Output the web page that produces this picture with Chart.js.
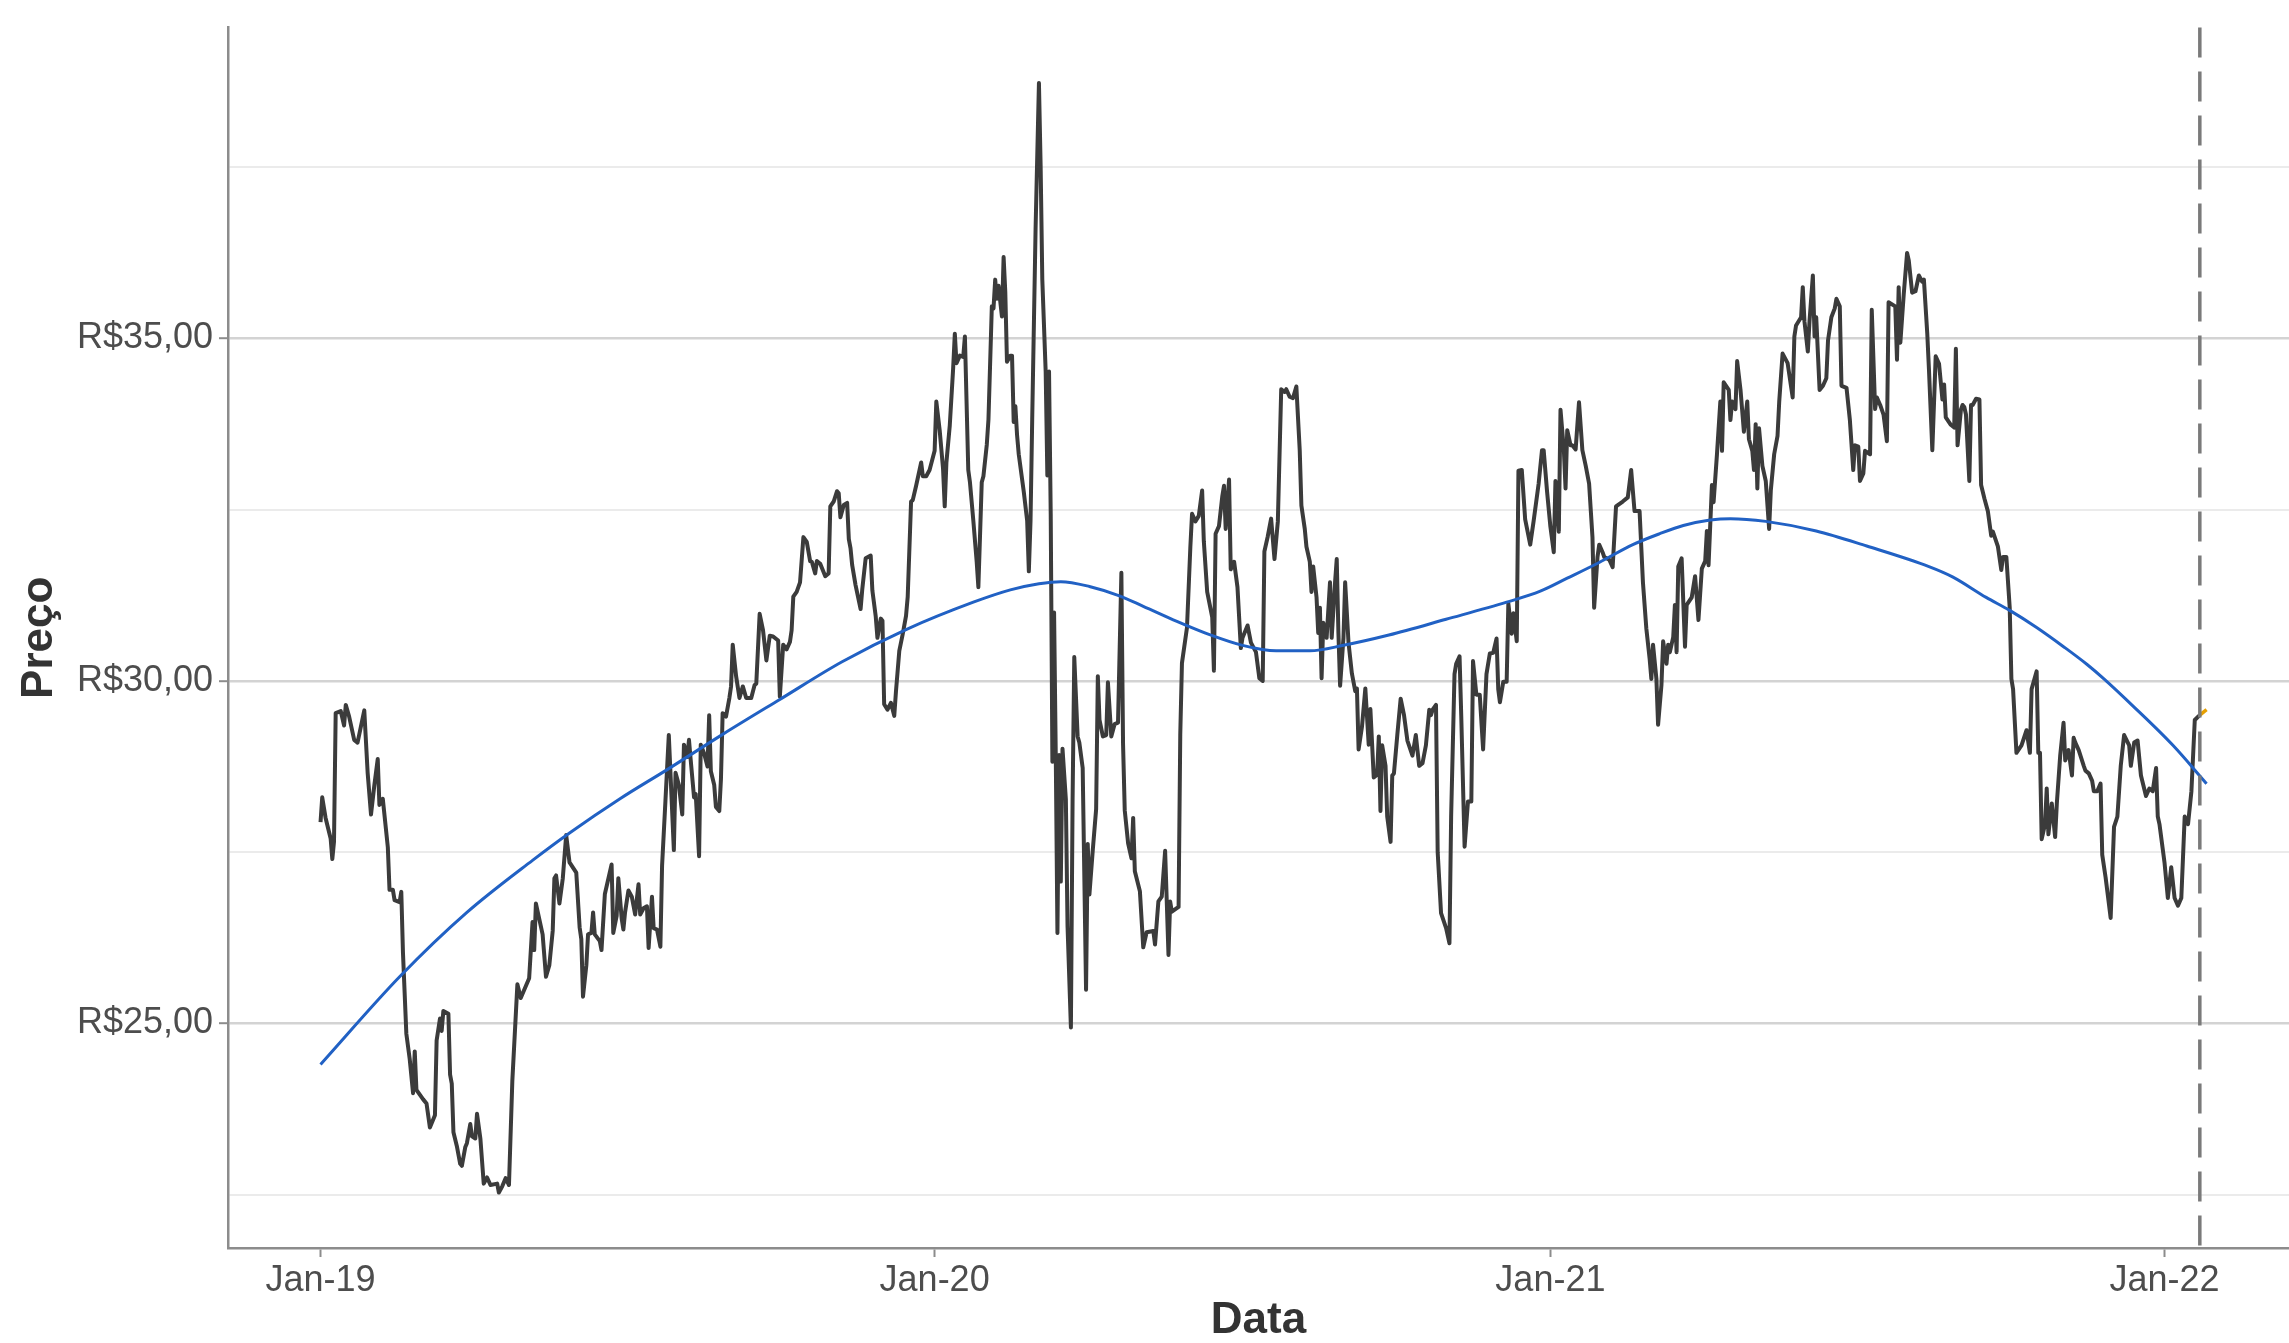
<!DOCTYPE html>
<html lang="pt-BR">
<head>
<meta charset="UTF-8">
<title>Preço</title>
<style>
  html, body { margin: 0; padding: 0; background: #ffffff; }
  #wrap { width: 2289px; height: 1343px; }
</style>
</head>
<body>
<div id="wrap"><canvas id="grafico"></canvas></div>
<script src="https://cdn.jsdelivr.net/npm/chart.js@4.4.1/dist/chart.umd.min.js"></script>
<script>
// dias desde 01/01/2019 (eixo x)
const dias = [
  0, 1, 3, 6, 7, 8, 9, 12, 14, 15,
  17, 20, 22, 26, 28, 30, 32, 34, 35, 37,
  40, 41, 43, 44, 47, 48, 49, 51, 53, 55,
  56, 57, 61, 63, 65, 68, 69, 71, 72, 73,
  76, 77, 78, 79, 81, 83, 84, 86, 87, 89,
  90, 92, 93, 95, 97, 99, 101, 105, 106, 108,
  110, 112, 114, 117, 119, 124, 126, 127, 128, 132,
  134, 136, 138, 139, 140, 142, 144, 146, 148, 152,
  154, 155, 156, 158, 159, 161, 162, 163, 166, 167,
  169, 173, 174, 176, 177, 179, 180, 181, 183, 185,
  187, 189, 190, 192, 194, 195, 197, 198, 200, 202,
  203, 205, 207, 210, 211, 213, 215, 216, 218, 219,
  220, 222, 223, 225, 226, 228, 230, 231, 232, 234,
  235, 237, 238, 239, 241, 243, 244, 245, 247, 249,
  251, 253, 256, 258, 259, 261, 263, 265, 267, 269,
  272, 273, 275, 277, 279, 280, 281, 283, 285, 287,
  289, 291, 292, 294, 295, 297, 300, 302, 303, 305,
  307, 308, 309, 311, 313, 314, 315, 316, 318, 321,
  322, 324, 327, 328, 330, 331, 333, 334, 335, 337,
  339, 341, 342, 344, 346, 348, 349, 351, 352, 354,
  357, 358, 360, 362, 365, 366, 368, 370, 371, 372,
  374, 376, 377, 378, 380, 382, 383, 385, 386, 388,
  390, 391, 393, 394, 396, 397, 399, 400, 401, 402,
  403, 405, 406, 407, 408, 410, 411, 412, 413, 414,
  415, 418, 420, 421, 422, 423, 425, 427, 428, 429,
  431, 432, 433, 434, 435, 436, 437, 438, 439, 440,
  441, 443, 444, 446, 447, 448, 450, 451, 453, 455,
  456, 457, 459, 461, 462, 463, 465, 467, 468, 470,
  472, 474, 476, 477, 478, 480, 482, 483, 484, 487,
  489, 491, 495, 496, 498, 500, 502, 504, 505, 506,
  510, 511, 512, 515, 517, 518, 520, 522, 524, 525,
  527, 530, 531, 532, 534, 536, 537, 538, 540, 541,
  543, 545, 547, 548, 551, 553, 556, 558, 560, 561,
  563, 565, 567, 569, 571, 573, 574, 576, 578, 580,
  582, 583, 585, 586, 588, 589, 590, 592, 593, 594,
  595, 596, 598, 600, 601, 603, 604, 605, 606, 608,
  609, 611, 613, 615, 616, 617, 619, 621, 623, 624,
  626, 628, 629, 630, 631, 633, 634, 636, 637, 638,
  640, 642, 644, 646, 649, 651, 653, 655, 657, 659,
  660, 661, 663, 664, 666, 669, 671, 672, 674, 675,
  677, 678, 680, 682, 684, 685, 687, 689, 691, 693,
  695, 697, 699, 700, 701, 703, 705, 706, 708, 709,
  711, 712, 714, 716, 719, 721, 724, 726, 727, 729,
  731, 733, 734, 736, 737, 739, 740, 741, 743, 744,
  746, 748, 750, 752, 754, 756, 757, 759, 760, 762,
  763, 766, 768, 770, 774, 777, 779, 781, 784, 786,
  788, 790, 791, 792, 794, 795, 797, 798, 800, 801,
  802, 804, 805, 806, 807, 809, 811, 812, 815, 817,
  819, 821, 823, 824, 825, 827, 828, 830, 832, 833,
  834, 837, 838, 839, 841, 842, 844, 846, 848, 849,
  851, 852, 853, 854, 855, 857, 859, 861, 862, 864,
  866, 867, 869, 872, 875, 876, 877, 880, 881, 882,
  884, 885, 887, 888, 889, 891, 893, 895, 896, 898,
  900, 901, 903, 904, 907, 909, 911, 912, 914, 915,
  917, 918, 921, 922, 924, 925, 927, 929, 931, 932,
  936, 937, 938, 939, 941, 943, 944, 946, 948, 950,
  952, 953, 955, 956, 958, 960, 962, 964, 965, 966,
  969, 971, 972, 973, 975, 976, 977, 978, 980, 981,
  982, 984, 986, 987, 989, 991, 993, 994, 997, 999,
  1000, 1002, 1004, 1005, 1006, 1008, 1011, 1014, 1016, 1017,
  1020, 1021, 1022, 1023, 1025, 1026, 1027, 1029, 1031, 1032,
  1034, 1036, 1037, 1039, 1041, 1042, 1043, 1045, 1048, 1049,
  1051, 1053, 1054, 1056, 1058, 1059, 1061, 1064, 1066, 1068,
  1070, 1072, 1075, 1076, 1078, 1080, 1082, 1085, 1087, 1089,
  1091, 1092, 1093, 1096, 1098, 1100, 1102, 1104, 1106, 1108,
  1110, 1112, 1114, 1116, 1117
];

const precos = [
  27.94, 28.30, 28.00, 27.70, 27.40, 27.65, 29.53, 29.56, 29.35, 29.65,
  29.48, 29.14, 29.10, 29.57, 28.66, 28.05, 28.48, 28.86, 28.19, 28.28,
  27.57, 26.95, 26.95, 26.80, 26.77, 26.92, 26.03, 24.85, 24.48, 23.98,
  24.59, 24.03, 23.89, 23.83, 23.48, 23.66, 24.75, 25.07, 24.89, 25.18,
  25.14, 24.25, 24.12, 23.41, 23.21, 22.95, 22.92, 23.19, 23.25, 23.53,
  23.35, 23.32, 23.68, 23.32, 22.66, 22.75, 22.64, 22.66, 22.53, 22.62,
  22.74, 22.64, 24.16, 25.57, 25.37, 25.66, 26.48, 26.07, 26.75, 26.30,
  25.68, 25.85, 26.35, 27.12, 27.16, 26.75, 27.12, 27.75, 27.35, 27.20,
  26.40, 26.23, 25.39, 25.85, 26.30, 26.32, 26.62, 26.30, 26.20, 26.07,
  26.89, 27.32, 26.32, 26.57, 27.12, 26.53, 26.37, 26.62, 26.94, 26.85,
  26.59, 27.03, 26.59, 26.68, 26.71, 26.10, 26.85, 26.39, 26.37, 26.12,
  27.30, 28.25, 29.21, 27.53, 28.66, 28.48, 28.05, 29.07, 28.89, 29.14,
  28.85, 28.30, 28.35, 27.44, 29.07, 28.94, 28.75, 29.50, 28.68, 28.48,
  28.16, 28.10, 28.57, 29.53, 29.48, 29.75, 29.92, 30.53, 30.07, 29.75,
  29.92, 29.75, 29.75, 29.94, 29.96, 30.98, 30.74, 30.30, 30.66, 30.65,
  30.59, 29.77, 30.53, 30.46, 30.57, 30.74, 31.23, 31.30, 31.44, 32.10,
  32.03, 31.75, 31.74, 31.57, 31.75, 31.71, 31.53, 31.57, 32.55, 32.62,
  32.77, 32.74, 32.39, 32.57, 32.60, 32.07, 31.94, 31.69, 31.40, 31.05,
  31.34, 31.79, 31.83, 31.32, 30.94, 30.63, 30.91, 30.88, 29.66, 29.58,
  29.68, 29.49, 29.84, 30.44, 30.68, 30.95, 31.23, 32.62, 32.64, 32.85,
  33.19, 32.99, 32.99, 33.08, 33.36, 34.08, 33.66, 33.10, 32.55, 33.19,
  33.73, 34.56, 35.07, 34.64, 34.75, 34.73, 35.03, 33.08, 32.90, 32.34,
  31.74, 31.37, 32.90, 32.99, 33.45, 33.82, 35.47, 35.44, 35.86, 35.58,
  35.77, 35.32, 36.19, 35.68, 34.66, 34.75, 34.75, 33.78, 34.01, 33.59,
  33.31, 32.76, 32.34, 31.60, 32.34, 33.82, 36.60, 38.73, 37.53, 35.86,
  34.52, 33.00, 34.52, 32.44, 28.82, 31.00, 28.92, 26.32, 28.92, 27.07,
  29.01, 28.27, 26.42, 24.94, 28.27, 30.35, 29.19, 29.10, 28.73, 25.49,
  27.62, 26.88, 27.53, 28.13, 30.07, 29.43, 29.19, 29.21, 29.98, 29.19,
  29.37, 29.39, 31.58, 29.07, 28.11, 27.63, 27.41, 28.00, 27.22, 26.93,
  26.11, 26.33, 26.35, 26.15, 26.78, 26.85, 27.52, 26.00, 26.78, 26.63,
  26.70, 29.22, 30.26, 30.78, 31.96, 32.44, 32.33, 32.41, 32.78, 32.04,
  31.30, 30.93, 30.15, 32.15, 32.26, 32.70, 32.85, 32.22, 32.94, 31.63,
  31.74, 31.37, 30.48, 30.63, 30.81, 30.56, 30.42, 30.04, 30.00, 31.89,
  32.11, 32.37, 31.78, 32.33, 34.26, 34.22, 34.26, 34.15, 34.13, 34.30,
  33.37, 32.56, 32.22, 31.96, 31.74, 31.30, 31.67, 31.22, 30.70, 31.07,
  30.04, 30.85, 30.63, 31.44, 30.63, 31.44, 31.78, 30.70, 29.93, 30.63,
  31.44, 30.56, 30.11, 29.85, 29.89, 29.00, 29.33, 29.89, 29.07, 29.59,
  28.59, 28.63, 29.19, 28.10, 29.06, 28.76, 28.02, 27.65, 28.62, 28.65,
  29.21, 29.74, 29.50, 29.13, 28.91, 29.21, 28.76, 28.80, 29.06, 29.58,
  29.50, 29.58, 29.65, 27.50, 26.61, 26.39, 26.17, 28.02, 30.10, 30.25,
  30.36, 29.50, 27.58, 28.24, 28.24, 30.29, 29.80, 29.80, 29.00, 30.10,
  30.40, 30.41, 30.62, 29.88, 29.69, 29.99, 29.99, 31.13, 30.69, 30.99,
  30.58, 33.07, 33.08, 32.36, 31.99, 32.33, 32.88, 33.37, 33.37, 32.77,
  32.25, 31.88, 32.92, 32.18, 33.96, 33.37, 32.81, 33.66, 33.44, 33.44,
  33.38, 34.07, 33.37, 33.14, 32.88, 32.10, 31.07, 31.81, 31.99, 31.88,
  31.81, 31.77, 31.66, 32.55, 32.62, 32.68, 33.08, 32.48, 32.48, 31.44,
  30.77, 30.32, 30.03, 30.53, 30.03, 29.36, 29.94, 30.58, 30.25, 30.53,
  30.42, 30.64, 31.11, 30.42, 31.67, 31.79, 30.50, 31.11, 31.22, 31.53,
  30.89, 31.64, 31.75, 32.19, 31.69, 32.86, 32.61, 33.31, 34.08, 33.36,
  34.36, 34.25, 33.81, 34.08, 33.97, 34.67, 34.25, 33.64, 34.08, 33.53,
  33.36, 33.08, 33.75, 32.81, 33.69, 33.14, 32.92, 32.22, 32.78, 33.31,
  33.58, 34.08, 34.78, 34.64, 34.14, 35.03, 35.19, 35.31, 35.75, 35.25,
  34.81, 35.25, 35.92, 35.03, 35.31, 34.25, 34.31, 34.42, 34.97, 35.31,
  35.44, 35.58, 35.47, 34.31, 34.28, 33.81, 33.08, 33.44, 33.42, 32.92,
  33.03, 33.36, 33.31, 35.42, 33.97, 34.14, 34.03, 33.89, 33.50, 35.53,
  35.47, 34.69, 35.75, 34.94, 35.64, 36.25, 36.14, 35.67, 35.69, 35.92,
  35.83, 35.86, 35.07, 34.55, 33.37, 34.74, 34.63, 34.11, 34.33, 33.85,
  33.74, 33.70, 34.85, 33.44, 33.96, 34.03, 34.00, 33.89, 32.92, 34.03,
  34.03, 34.12, 34.11, 32.86, 32.66, 32.48, 32.12, 32.18, 31.96, 31.62,
  31.81, 31.81, 31.07, 30.03, 29.88, 28.95, 29.06, 29.28, 28.95, 29.88,
  30.14, 28.95, 28.95, 27.69, 27.91, 28.43, 27.76, 28.21, 27.72, 28.21,
  28.91, 29.39, 28.84, 28.99, 28.62, 29.17, 29.10, 28.99, 28.76, 28.69,
  28.65, 28.54, 28.39, 28.39, 28.50, 27.46, 27.13, 26.54, 27.87, 28.02,
  28.76, 29.21, 29.06, 28.76, 29.10, 29.13, 28.62, 28.32, 28.43, 28.39,
  28.73, 28.02, 27.91, 27.35, 26.83, 27.28, 26.83, 26.72, 26.83, 28.02,
  27.91, 28.39, 29.43, 29.48, 29.50
];

// curva suavizada (loess)
const diasTendencia = [0, 47, 87, 126, 148, 178, 207, 239, 273, 310,
  348, 388, 410, 427, 440, 457, 474, 489, 509, 528,
  548, 568, 588, 608, 635, 669, 705, 725, 741, 760,
  780, 796, 810, 826, 838, 859, 889, 919, 956, 970,
  990, 1004, 1020, 1036, 1050, 1060, 1077, 1101, 1121];
const tendencia = [24.40, 25.68, 26.62, 27.38, 27.78, 28.28, 28.72, 29.22, 29.73, 30.28,
  30.75, 31.15, 31.33, 31.42, 31.45, 31.38, 31.25, 31.09, 30.87, 30.68,
  30.52, 30.44, 30.44, 30.52, 30.67, 30.90, 31.15, 31.31, 31.50, 31.73,
  31.99, 32.15, 32.27, 32.35, 32.37, 32.33, 32.19, 31.97, 31.67, 31.52,
  31.22, 31.03, 30.78, 30.50, 30.24, 30.03, 29.64, 29.06, 28.50];

// previsão (trecho laranja) e data de corte
const diasPrevisao = [1117, 1121];
const previsao = [29.50, 29.58];
const dataCorte = 1117;

// eixos
const xTicks = [0, 365, 731, 1096];
const xTickLabels = ['Jan-19', 'Jan-20', 'Jan-21', 'Jan-22'];
const yTicks = [22.5, 25, 27.5, 30, 32.5, 35, 37.5];

const pares = (xs, ys) => xs.map((x, i) => ({ x: x, y: ys[i] }));
const ehPrincipal = v => Math.abs(v % 5) < 1e-6;

const linhaCorte = {
  id: 'linhaCorte',
  afterDatasetsDraw(chart) {
    const { ctx, chartArea, scales } = chart;
    const x = scales.x.getPixelForValue(dataCorte);
    ctx.save();
    ctx.strokeStyle = '#7a7a7a';
    ctx.lineWidth = 3.5;
    ctx.setLineDash([30, 14]);
    ctx.beginPath();
    ctx.moveTo(x, chartArea.top);
    ctx.lineTo(x, chartArea.bottom);
    ctx.stroke();
    ctx.restore();
  }
};

new Chart(document.getElementById('grafico'), {
  type: 'line',
  data: {
    datasets: [
      {
        label: 'Tendência',
        data: pares(diasTendencia, tendencia),
        borderColor: '#2161c4',
        borderWidth: 3,
        cubicInterpolationMode: 'monotone',
        pointRadius: 0,
        order: 0
      },
      {
        label: 'Previsão',
        data: pares(diasPrevisao, previsao),
        borderColor: '#e69f00',
        borderWidth: 3.5,
        pointRadius: 0,
        order: 1
      },
      {
        label: 'Preço',
        data: pares(dias, precos),
        borderColor: '#3b3b3b',
        borderWidth: 4,
        borderJoinStyle: 'round',
        pointRadius: 0,
        tension: 0,
        order: 2
      }
    ]
  },
  options: {
    responsive: true,
    maintainAspectRatio: false,
    devicePixelRatio: 1,
    animation: false,
    layout: { padding: { top: 17, right: 0, bottom: 0, left: 0 } },
    plugins: { legend: { display: false }, tooltip: { enabled: false } },
    scales: {
      x: {
        type: 'linear',
        min: -55,
        max: 1170,
        afterBuildTicks: s => { s.ticks = xTicks.map(v => ({ value: v })); },
        afterFit: s => { s.height = 95; },
        ticks: {
          autoSkip: false,
          maxRotation: 0,
          padding: 2,
          color: '#4d4d4d',
          font: { family: 'Liberation Sans, Arial, sans-serif', size: 36 },
          callback: v => xTickLabels[xTicks.indexOf(v)]
        },
        grid: { drawOnChartArea: false, tickLength: 9, tickColor: '#8c8c8c', tickWidth: 2 },
        border: { color: '#8c8c8c', width: 2.5 },
        title: {
          display: true,
          text: 'Data',
          color: '#333333',
          padding: 0,
          font: { family: 'Liberation Sans, Arial, sans-serif', size: 44, weight: 'bold', lineHeight: 1 }
        }
      },
      y: {
        min: 21.72,
        max: 39.54,
        afterBuildTicks: s => { s.ticks = yTicks.map(v => ({ value: v })); },
        afterFit: s => { s.width = 228; },
        ticks: {
          padding: 6,
          color: '#4d4d4d',
          font: { family: 'Liberation Sans, Arial, sans-serif', size: 36 },
          callback: v => ehPrincipal(v) ? 'R$' + v.toFixed(2).replace('.', ',') : ''
        },
        grid: {
          color: c => ehPrincipal(c.tick.value) ? '#d3d3d3' : '#ebebeb',
          lineWidth: c => ehPrincipal(c.tick.value) ? 2.4 : 2,
          tickColor: c => ehPrincipal(c.tick.value) ? '#8c8c8c' : 'rgba(0,0,0,0)',
          tickLength: 9,
          tickWidth: 2
        },
        border: { color: '#8c8c8c', width: 2.5 },
        title: {
          display: true,
          text: 'Preço',
          color: '#333333',
          padding: { top: 18, bottom: 0 },
          font: { family: 'Liberation Sans, Arial, sans-serif', size: 44, weight: 'bold', lineHeight: 1 }
        }
      }
    }
  },
  plugins: [linhaCorte]
});
</script>
</body>
</html>
